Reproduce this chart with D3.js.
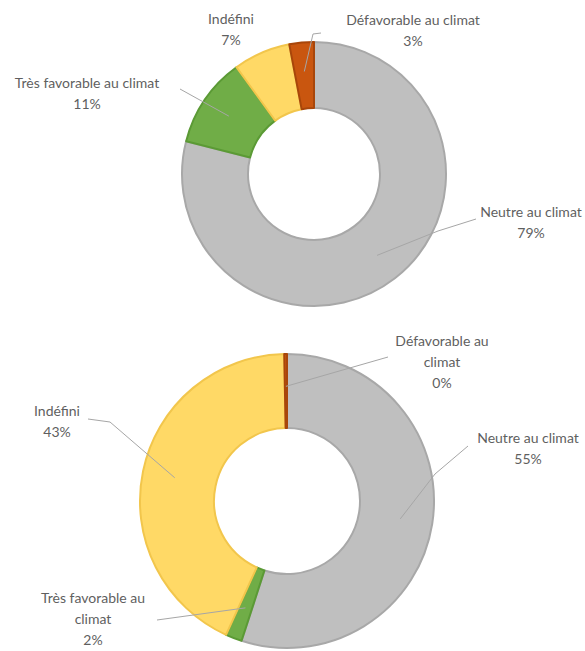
<!DOCTYPE html>
<html>
<head>
<meta charset="utf-8">
<script src="https://cdn.jsdelivr.net/npm/d3@7"></script>
<style>
  html, body { margin: 0; padding: 0; background: #fff; }
  svg { display: block; }
  text { font-family: Lato, "Open Sans", sans-serif; font-size: 14px; fill: #5f5f5f; }
</style>
</head>
<body>
<svg id="chart" width="585" height="651"></svg>
<script>
// ---- data ----
const categories = ["Neutre au climat", "Très favorable au climat", "Indéfini", "Défavorable au climat"];
const valuesTop = [79, 11, 7, 3];
const valuesBottom = [55, 1.8, 42.9, 0.3];
const pctLabelsTop = ["79%", "11%", "7%", "3%"];
const pctLabelsBottom = ["55%", "2%", "43%", "0%"];

// ---- styles ----
const fills = ["#bfbfbf", "#70ad47", "#ffd966", "#c9560f"];
const strokes = ["#a8a8a8", "#5b9a35", "#f2c64c", "#a8460a"];

// ---- layout ----
const charts = [
  {
    values: valuesTop, pcts: pctLabelsTop,
    cx: 314, cy: 174, R: 132, r: 66,
    labels: [
      { x: 531, y: 212, lines: ["Neutre au climat"], leader: [[476, 219], [438, 231]] },
      { x: 87, y: 83, lines: ["Très favorable au climat"], leader: [[180, 89]] },
      { x: 231, y: 19, lines: ["Indéfini"], leader: null },
      { x: 413, y: 20, lines: ["Défavorable au climat"], leader: [[321, 33], [313, 34]] }
    ]
  },
  {
    values: valuesBottom, pcts: pctLabelsBottom,
    cx: 287, cy: 501, R: 147, r: 73,
    labels: [
      { x: 528, y: 438, lines: ["Neutre au climat"], leader: [[468, 446], [435, 474]] },
      { x: 93, y: 598, lines: ["Très favorable au", "climat"], leader: [[157, 620]] },
      { x: 57, y: 411, lines: ["Indéfini"], leader: [[88, 419], [110, 422]] },
      { x: 442, y: 341, lines: ["Défavorable au", "climat"], leader: [[388, 357]] }
    ]
  }
];

const svg = d3.select("#chart");
const lineH = 21;

charts.forEach(c => {
  const pie = d3.pie().sort(null).value(d => d)(c.values);
  const arc = d3.arc().innerRadius(c.r).outerRadius(c.R);
  const g = svg.append("g").attr("transform", `translate(${c.cx},${c.cy})`);

  g.selectAll("path.slice")
    .data(pie)
    .join("path")
    .attr("class", "slice")
    .attr("d", arc)
    .attr("fill", (d, i) => fills[i])
    .attr("stroke", (d, i) => strokes[i])
    .attr("stroke-width", 2)
    .attr("stroke-linejoin", "round");

  // leaders
  const endR = c.R * 0.78;
  const endArc = d3.arc().innerRadius(endR).outerRadius(endR);
  pie.forEach((d, i) => {
    const L = c.labels[i];
    if (!L.leader) return;
    const [ex, ey] = endArc.centroid(d);
    const pts = L.leader.map(p => [p[0], p[1]]).concat([[ex + c.cx, ey + c.cy]]);
    svg.append("path")
      .attr("d", d3.line()(pts))
      .attr("fill", "none")
      .attr("stroke", "#a6a6a6")
      .attr("stroke-width", 1);
  });

  // labels
  pie.forEach((d, i) => {
    const L = c.labels[i];
    const lines = L.lines.concat([c.pcts[i]]);
    const t = svg.append("text")
      .attr("text-anchor", "middle")
      .attr("x", L.x)
      .attr("y", L.y);
    lines.forEach((s, k) => {
      t.append("tspan")
        .attr("x", L.x)
        .attr("y", L.y + k * lineH)
        .attr("dy", "0.35em")
        .text(s);
    });
  });
});
</script>
</body>
</html>
